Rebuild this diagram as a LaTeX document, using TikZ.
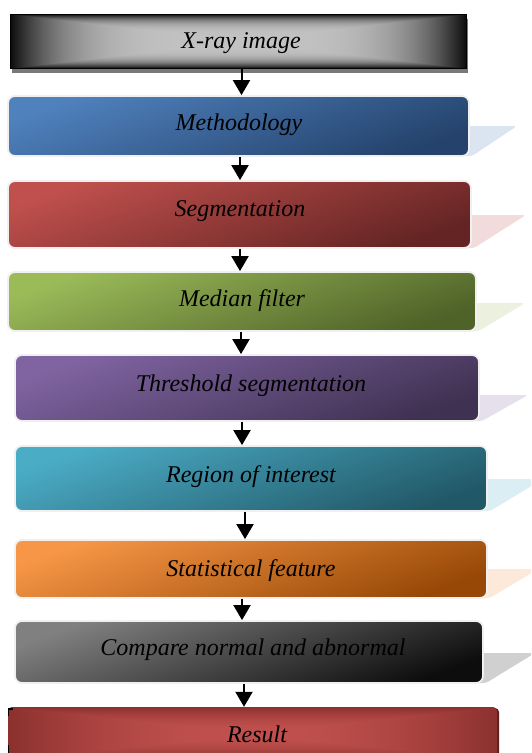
\documentclass[tikz,border=0pt]{standalone}
\usepackage{tikz}
\usepackage{fontspec}
\setmainfont{Liberation Serif}
\usetikzlibrary{arrows.meta}
\pgfdeclarefunctionalshading{xrayshade}{\pgfpoint{-50bp}{-50bp}}{\pgfpoint{50bp}{50bp}}{}{
  abs 25 div exch abs 25 div
  2 copy lt {exch} if pop
  dup 1 gt {pop 1} if
  dup mul dup mul 0.72 mul 0.76 exch sub dup dup
}
\pgfdeclarefunctionalshading{resultshade}{\pgfpoint{-50bp}{-50bp}}{\pgfpoint{50bp}{50bp}}{}{
  abs 25 div exch abs 25 div
  2 copy lt {exch} if pop
  dup 1 gt {pop 1} if
  dup mul
  dup 0.208 mul 0.753 exch sub exch
  dup 0.124 mul 0.314 exch sub exch
  0.122 mul 0.302 exch sub
}
\definecolor{bluL}{HTML}{4F81BD}\definecolor{bluD}{HTML}{24426B}\definecolor{bluR}{HTML}{DBE5F1}
\definecolor{redL}{HTML}{C0504D}\definecolor{redD}{HTML}{632423}\definecolor{redR}{HTML}{F2DCDB}
\definecolor{grnL}{HTML}{9BBB59}\definecolor{grnD}{HTML}{4F6228}\definecolor{grnR}{HTML}{EBF1DE}
\definecolor{purL}{HTML}{8064A2}\definecolor{purD}{HTML}{3F3151}\definecolor{purR}{HTML}{E5E0EC}
\definecolor{aquL}{HTML}{4BACC6}\definecolor{aquD}{HTML}{215867}\definecolor{aquR}{HTML}{DAEEF3}
\definecolor{orgL}{HTML}{F79646}\definecolor{orgD}{HTML}{974806}\definecolor{orgR}{HTML}{FDE9D9}
\definecolor{gryL}{HTML}{808080}\definecolor{gryD}{HTML}{0D0D0D}\definecolor{gryR}{HTML}{D0D0D0}
\definecolor{edgeW}{HTML}{F0F0F0}
\definecolor{resShadow}{HTML}{5B1F1E}
\newcommand\reflshape[5]{\fill[#1, rounded corners=3pt] (#2-12,#3) -- (#5,#3) -- (#2+3,#4) -- (#2-12,#4) -- cycle;}
\tikzset{
  cbox/.style 2 args={rectangle, rounded corners=7pt, draw=edgeW, line width=1.8pt,
    top color=#1, bottom color=#2, shading angle=20, inner sep=0pt},
  lbl/.style={font=\fontsize{24}{28}\selectfont\itshape, text=black, inner sep=0pt},
  arr/.style={line width=2pt, -{Triangle[width=17pt,length=15pt]}},
}
\begin{document}
\begin{tikzpicture}[x=1pt,y=-1pt]
\clip (0,0) rectangle (531,753);
\fill[white] (0,0) rectangle (531,753);
% reflections
\reflshape{bluR}{469}{126}{156}{517}
\reflshape{redR}{471}{215}{248}{526}
\reflshape{grnR}{476}{303}{331}{525}
\reflshape{purR}{479}{395}{421}{528}
\reflshape{aquR}{487}{479}{511}{543}
\reflshape{orgR}{487}{569}{598}{538}
\reflshape{gryR}{483}{653}{683}{535}
% X-ray box with shadow
\fill[gray!95!black] (12,19) rectangle (468,73);
\node[rectangle, draw=black, line width=0.6pt, shade, shading=xrayshade,
  minimum width=456pt, minimum height=54pt, inner sep=0pt] (b1) at (238,41) {};
% coloured boxes
\node[cbox={bluL}{bluD}, minimum width=461pt, minimum height=60pt] (b2) at (238.5,126) {};
\node[cbox={redL}{redD}, minimum width=463pt, minimum height=67pt] (b3) at (239.5,214.5) {};
\node[cbox={grnL}{grnD}, minimum width=468pt, minimum height=59pt] (b4) at (242,301.5) {};
\node[cbox={purL}{purD}, minimum width=464pt, minimum height=66pt] (b5) at (247,388) {};
\node[cbox={aquL}{aquD}, minimum width=472pt, minimum height=65pt] (b6) at (251,478.5) {};
\node[cbox={orgL}{orgD}, minimum width=472pt, minimum height=58pt] (b7) at (251,569) {};
\node[cbox={gryL}{gryD}, minimum width=468pt, minimum height=62pt] (b8) at (249,652) {};
% result box
\fill[resShadow, rounded corners=4pt] (10,708) rectangle (499,762);
\node[rectangle, rounded corners=4pt, shade, shading=resultshade,
  minimum width=489pt, minimum height=53pt, inner sep=0pt] (b9) at (252.5,733.5) {};
\draw[black, line width=1.2pt] (8.6,716) -- (8.6,709) -- (13,709);
\draw[black, line width=1.2pt] (8.6,745) -- (8.6,753);
% labels
\node[lbl] (t1) at (241,43.5) {X-ray image};
\node[lbl] (t2) at (239,124.5) {Methodology};
\node[lbl] (t3) at (240,211) {Segmentation};
\node[lbl] (t4) at (242,300.5) {Median filter};
\node[lbl] (t5) at (251,385.5) {Threshold segmentation};
\node[lbl] (t6) at (251,476.5) {Region of interest};
\node[lbl] (t7) at (251,570.5) {Statistical feature};
\node[lbl] (t8) at (253,649.5) {Compare normal and abnormal};
\node[lbl] (t9) at (257,734.5) {Result};
% arrows
\draw[arr] (b1.south -| 241.5,0) -- (b2.north -| 241.5,0);
\draw[arr] (b2.south -| 240,0) -- (b3.north -| 240,0);
\draw[arr] (b3.south -| 240,0) -- (b4.north -| 240,0);
\draw[arr] (b4.south -| 241,0) -- (b5.north -| 241,0);
\draw[arr] (b5.south -| 242,0) -- (b6.north -| 242,0);
\draw[arr] (b6.south -| 245,0) -- (b7.north -| 245,0);
\draw[arr] (b7.south -| 242,0) -- (b8.north -| 242,0);
\draw[arr] (b8.south -| 244,0) -- (b9.north -| 244,0);
\end{tikzpicture}
\end{document}
